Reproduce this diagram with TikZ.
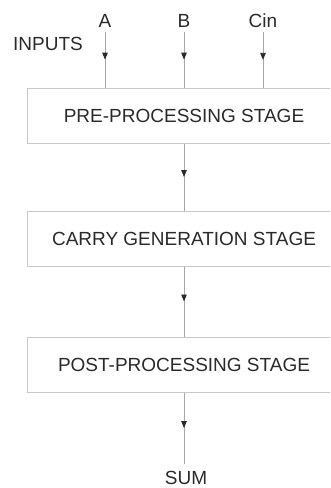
\documentclass[tikz,border=0pt]{standalone}
\usepackage{fontspec}
\setmainfont{Liberation Sans}
\usetikzlibrary{arrows.meta,decorations.markings}
\definecolor{linegray}{HTML}{A8A8A8}
\definecolor{boxgray}{HTML}{C8C8C8}
\definecolor{txt}{HTML}{2A2A2A}
\begin{document}
\begin{tikzpicture}[x=1pt,y=-1pt,
  stagebox/.style={draw=boxgray,line width=1pt,minimum width=314pt,minimum height=55pt,inner sep=0pt,
    text=txt,font=\fontsize{19}{22}\selectfont},
  lbl/.style={text=txt,font=\fontsize{19}{22}\selectfont,inner sep=4pt},
  flow/.style={draw=linegray,line width=0.9pt,postaction={decorate},
    decoration={markings,mark=at position 0.5 with {\arrow[txt]{Triangle[length=7pt,width=5.5pt]}}}}]
\useasboundingbox (0,0) rectangle (330,488);
\clip (0,0) rectangle (330,488);
\node[stagebox] (pre) at (184,115.5) {PRE-PROCESSING STAGE};
\node[stagebox] (carry) at (184,238.5) {CARRY GENERATION STAGE};
\node[stagebox] (post) at (184,364.5) {POST-PROCESSING STAGE};
\node[lbl] (A) at (105,21) {A};
\node[lbl] (B) at (184,21) {B};
\node[lbl] (Cin) at (263,21) {Cin};
\node[lbl] (inputs) at (48,44) {INPUTS};
\node[lbl,inner sep=7pt] (sum) at (186,477.5) {SUM};
\draw[flow] (A.south) -- (A.south |- pre.north);
\draw[flow] (B.south) -- (B.south |- pre.north);
\draw[flow] (Cin.south) -- (Cin.south |- pre.north);
\draw[flow] (pre.south) -- (carry.north);
\draw[flow] (carry.south) -- (post.north);
\draw[flow] (post.south) -- (post.south |- sum.north);
\end{tikzpicture}
\end{document}
